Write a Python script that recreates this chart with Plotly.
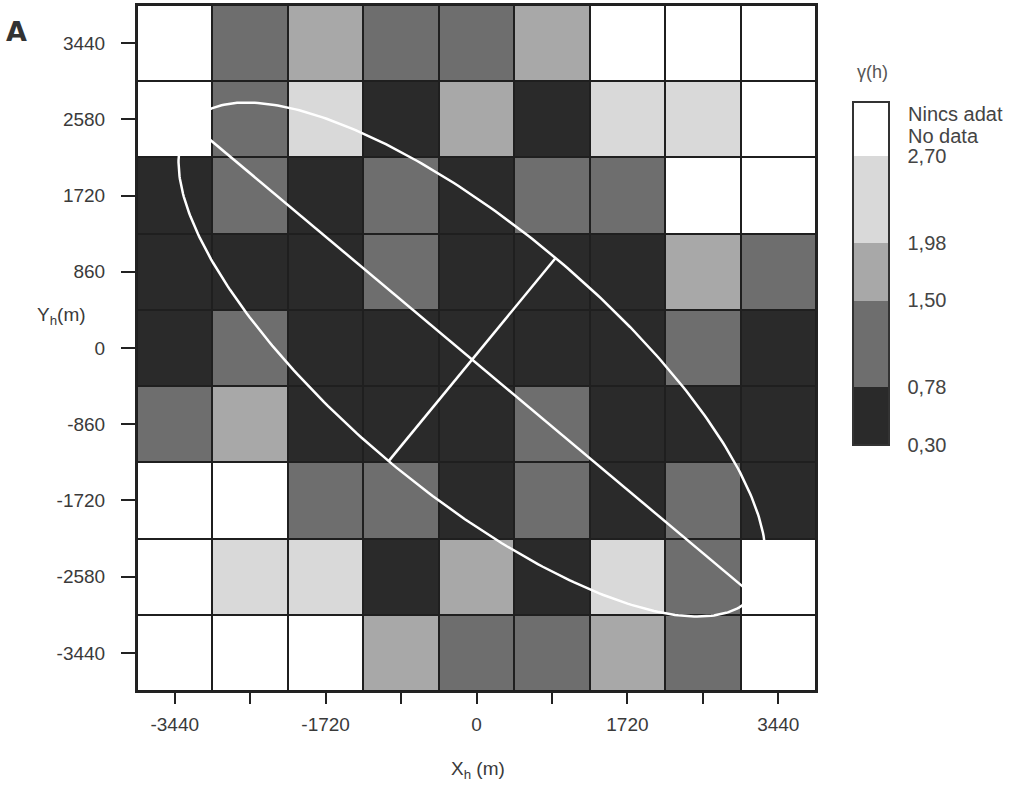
import numpy as np
import plotly.graph_objects as go

# ---------------- data ----------------
x_lags = [-3440, -2580, -1720, -860, 0, 860, 1720, 2580, 3440]
y_lags = [3440, 2580, 1720, 860, 0, -860, -1720, -2580, -3440]
x_ticktext = ["-3440", "", "-1720", "", "0", "", "1720", "", "3440"]
y_ticktext = ["3440", "2580", "1720", "860", "0", "-860", "-1720", "-2580", "-3440"]

# class of each cell: 0 = 0.30-0.78, 1 = 0.78-1.50, 2 = 1.50-1.98, 3 = 1.98-2.70, 4 = no data
row_3440 = [4, 1, 2, 1, 1, 2, 4, 4, 4]
row_2580 = [4, 1, 3, 0, 2, 0, 3, 3, 4]
row_1720 = [0, 1, 0, 1, 0, 1, 1, 4, 4]
row_860 = [0, 0, 0, 1, 0, 0, 0, 2, 1]
row_0 = [0, 1, 0, 0, 0, 0, 0, 1, 0]
row_m860 = [1, 2, 0, 0, 0, 1, 0, 0, 0]
row_m1720 = [4, 4, 1, 1, 0, 1, 0, 1, 0]
row_m2580 = [4, 3, 3, 0, 2, 0, 3, 1, 4]
row_m3440 = [4, 4, 4, 2, 1, 1, 2, 1, 4]
class_grid = [row_3440, row_2580, row_1720, row_860, row_0,
              row_m860, row_m1720, row_m2580, row_m3440]

class_bounds = [0.30, 0.78, 1.50, 1.98, 2.70, 3.15]   # last = top of "no data" box
class_labels = ["0,30", "0,78", "1,50", "1,98", "2,70"]
class_colors = ["#2a2a2a", "#6e6e6e", "#a8a8a8", "#d9d9d9", "#ffffff"]

# anisotropy ellipse parameters (m, degrees)
ell_cx, ell_cy = -50, -130
ell_a, ell_b = 4170, 1490
ell_angle = -39.7

# ---------------- build ----------------
zmin, zmax = class_bounds[0], class_bounds[-1]
mids = [(class_bounds[i] + class_bounds[i + 1]) / 2 for i in range(5)]
z = [[mids[c] for c in row] for row in class_grid]

cscale = []
for i, col in enumerate(class_colors):
    f0 = (class_bounds[i] - zmin) / (zmax - zmin)
    f1 = (class_bounds[i + 1] - zmin) / (zmax - zmin)
    cscale.append([f0, col])
    cscale.append([f1, col])

# plot area pixel geometry
L, R, T, B = 137, 816, 3, 691
W, H = 1024, 788
CB_X0, CB_TOP, CB_LEN, CB_THICK = 853, 100, 343, 36

def px(xp):
    return (xp - L) / (R - L)

def py(yp):
    return (B - yp) / (B - T)

fig = go.Figure()
fig.add_trace(go.Heatmap(
    x=x_lags, y=y_lags, z=z, zmin=zmin, zmax=zmax,
    colorscale=cscale, xgap=2, ygap=2, hoverinfo="skip",
    colorbar=dict(
        x=px(CB_X0), xanchor="left", xpad=0,
        y=py(CB_TOP), yanchor="top", ypad=0,
        lenmode="pixels", len=CB_LEN,
        thicknessmode="pixels", thickness=CB_THICK,
        outlinewidth=2, outlinecolor="#333333",
        tickmode="array", tickvals=class_bounds[:5], ticktext=class_labels,
        ticks="outside", ticklen=14, tickcolor="rgba(0,0,0,0)",
        tickfont=dict(family="Liberation Sans", size=20, color="#444444"),
    ),
))

t = np.linspace(0, 2 * np.pi, 400)
th = np.deg2rad(ell_angle)
ux, uy = np.cos(th), np.sin(th)
vx, vy = -np.sin(th), np.cos(th)
ex = ell_cx + ell_a * np.cos(t) * ux + ell_b * np.sin(t) * vx
ey = ell_cy + ell_a * np.cos(t) * uy + ell_b * np.sin(t) * vy
line_style = dict(color="#ffffff", width=2.5)
fig.add_trace(go.Scatter(x=ex, y=ey, mode="lines", line=line_style, hoverinfo="skip", showlegend=False))
fig.add_trace(go.Scatter(x=[ell_cx - ell_a * ux, ell_cx + ell_a * ux],
                         y=[ell_cy - ell_a * uy, ell_cy + ell_a * uy],
                         mode="lines", line=line_style, hoverinfo="skip", showlegend=False))
fig.add_trace(go.Scatter(x=[ell_cx - ell_b * vx, ell_cx + ell_b * vx],
                         y=[ell_cy - ell_b * vy, ell_cy + ell_b * vy],
                         mode="lines", line=line_style, hoverinfo="skip", showlegend=False))

axis_common = dict(
    range=[-3870, 3870], showgrid=False, zeroline=False,
    showline=True, linecolor="#222222", linewidth=2, mirror=True,
    ticks="outside", tickwidth=2, tickcolor="#222222",
    tickfont=dict(family="Liberation Sans", size=19, color="#3a3a3a"),
    tickmode="array", fixedrange=True,
)
fig.update_xaxes(**axis_common, tickvals=x_lags, ticktext=x_ticktext, ticklen=11,
                 ticklabelstandoff=4)
fig.update_yaxes(**axis_common, tickvals=y_lags, ticktext=y_ticktext, ticklen=14,
                 ticklabelstandoff=12)

# separator lines inside the legend bar at the class boundaries
shapes = []
for b in class_bounds[1:5]:
    yp = CB_TOP + (zmax - b) / (zmax - zmin) * CB_LEN
    shapes.append(dict(type="line", xref="paper", yref="paper",
                       x0=px(CB_X0), x1=px(CB_X0 + CB_THICK), y0=py(yp), y1=py(yp),
                       line=dict(color="#3a3a3a", width=1.5)))

ann_font = dict(family="Liberation Sans", size=19, color="#3a3a3a")
annotations = [
    dict(text="<b>A</b>", x=px(4), y=py(30), xanchor="left", yanchor="middle",
         font=dict(family="DejaVu Sans", size=27, color="#333333")),
    dict(text="Y<sub>h</sub>(m)", x=px(88), y=py(315), xanchor="right", yanchor="middle", font=ann_font),
    dict(text="X<sub>h</sub> (m)", x=px(478), y=py(770), xanchor="center", yanchor="middle", font=ann_font),
    dict(text="γ(h)", x=px(872), y=py(70), xanchor="center", yanchor="middle",
         font=dict(family="Liberation Sans", size=18, color="#555555")),
    dict(text="Nincs adat", x=px(906), y=py(112), xanchor="left", yanchor="middle",
         font=dict(family="Liberation Sans", size=20, color="#444444")),
    dict(text="No data", x=px(906), y=py(134), xanchor="left", yanchor="middle",
         font=dict(family="Liberation Sans", size=20, color="#444444")),
]
for a in annotations:
    a.update(xref="paper", yref="paper", showarrow=False)

fig.update_layout(
    width=W, height=H,
    margin=dict(l=L, r=W - R, t=T, b=H - B),
    paper_bgcolor="#ffffff", plot_bgcolor="#1f1f1f",
    annotations=annotations, shapes=shapes, showlegend=False,
)

fig.write_html("out.html", config={"displayModeBar": False},
               post_script="document.body.style.margin='0';")
